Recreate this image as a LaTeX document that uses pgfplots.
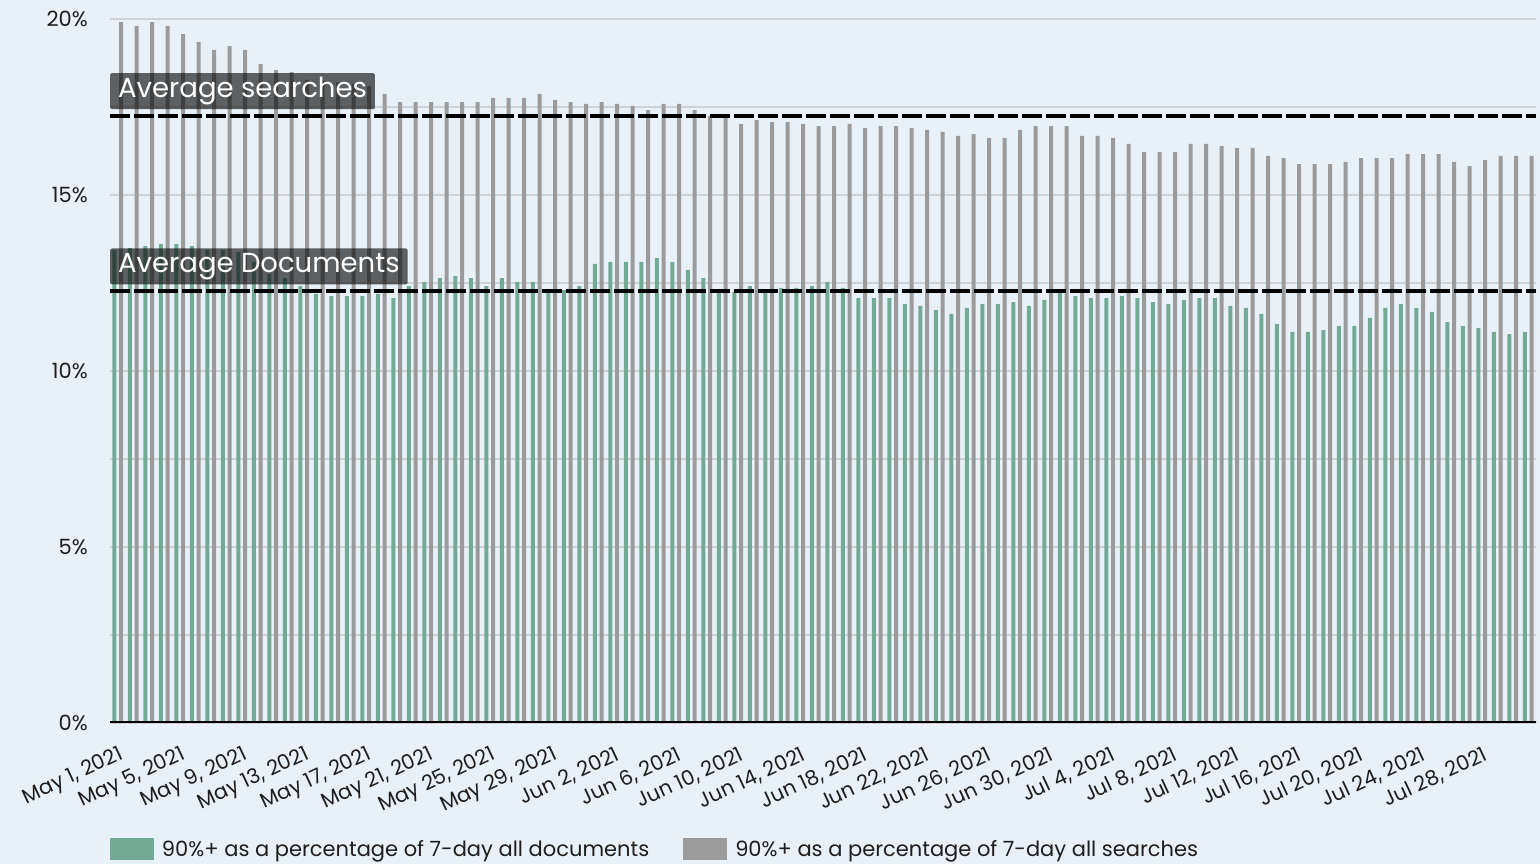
\documentclass[border=0pt]{standalone}
\usepackage{pgfplots}
\usepackage{pgfplotstable}
\pgfplotsset{compat=1.18}
\usepackage{fontspec}
\setmainfont{Poppins}
\definecolor{bgc}{HTML}{E8F1F7}
\definecolor{greenc}{HTML}{73AA96}
\definecolor{grayc}{HTML}{9B9B9B}
\definecolor{gridc}{HTML}{D2D2D2}
\definecolor{txtc}{HTML}{1E1E1E}

\pgfplotstableread{
k docs searches
0 13.44 19.91
1 13.49 19.80
2 13.55 19.91
3 13.61 19.80
4 13.61 19.57
5 13.55 19.35
6 13.44 19.12
7 13.44 19.23
8 13.38 19.12
9 13.10 18.72
10 12.76 18.55
11 12.64 18.49
12 12.41 18.27
13 12.19 18.25
14 12.13 18.20
15 12.13 18.15
16 12.13 18.10
17 12.19 17.87
18 12.07 17.64
19 12.41 17.64
20 12.53 17.64
21 12.64 17.64
22 12.70 17.64
23 12.64 17.64
24 12.41 17.76
25 12.64 17.76
26 12.53 17.76
27 12.53 17.87
28 12.24 17.70
29 12.30 17.64
30 12.41 17.59
31 13.04 17.64
32 13.10 17.59
33 13.10 17.53
34 13.10 17.41
35 13.21 17.59
36 13.10 17.59
37 12.87 17.41
38 12.64 17.24
39 12.24 17.20
40 12.24 17.02
41 12.41 17.13
42 12.24 17.07
43 12.36 17.07
44 12.36 17.02
45 12.41 16.96
46 12.53 16.96
47 12.36 17.02
48 12.07 16.90
49 12.07 16.96
50 12.07 16.96
51 11.90 16.90
52 11.85 16.85
53 11.73 16.79
54 11.62 16.68
55 11.79 16.73
56 11.90 16.62
57 11.90 16.62
58 11.96 16.85
59 11.85 16.96
60 12.02 16.96
61 12.24 16.96
62 12.13 16.68
63 12.07 16.68
64 12.07 16.62
65 12.13 16.45
66 12.07 16.22
67 11.96 16.22
68 11.90 16.22
69 12.02 16.45
70 12.07 16.45
71 12.07 16.39
72 11.85 16.34
73 11.79 16.34
74 11.62 16.11
75 11.34 16.05
76 11.11 15.88
77 11.11 15.88
78 11.16 15.88
79 11.28 15.94
80 11.28 16.05
81 11.51 16.05
82 11.79 16.05
83 11.90 16.16
84 11.79 16.16
85 11.68 16.16
86 11.39 15.94
87 11.28 15.82
88 11.22 15.99
89 11.11 16.11
90 11.05 16.11
91 11.11 16.11
}\datatable

\begin{document}
\begin{tikzpicture}
\fill[bgc] (-110pt,-141pt) rectangle (1430pt,723pt);
\useasboundingbox (-110pt,-141pt) rectangle (1430pt,723pt);
\begin{axis}[
  at={(0pt,0pt)}, anchor=south west,
  scale only axis, width=1426pt, height=704pt,
  xmin=-0.5, xmax=91.5, ymin=0, ymax=20,
  axis x line=bottom, axis y line=left,
  x axis line style={draw=none},
  y axis line style={draw=none},
  ytick={0,5,10,15,20},
  yticklabels={0\%,5\%,10\%,15\%,20\%},
  minor ytick={2.5,7.5,12.5,17.5},
  ymajorgrids, yminorgrids,
  major grid style={gridc, line width=2pt},
  minor grid style={gridc, line width=2pt},
  major tick length=0pt, minor tick length=0pt,
  xtick={0,4,...,88},
  xticklabels={{May 1, 2021},{May 5, 2021},{May 9, 2021},{May 13, 2021},{May 17, 2021},{May 21, 2021},{May 25, 2021},{May 29, 2021},{Jun 2, 2021},{Jun 6, 2021},{Jun 10, 2021},{Jun 14, 2021},{Jun 18, 2021},{Jun 22, 2021},{Jun 26, 2021},{Jun 30, 2021},{Jul 4, 2021},{Jul 8, 2021},{Jul 12, 2021},{Jul 16, 2021},{Jul 20, 2021},{Jul 24, 2021},{Jul 28, 2021}},
  yticklabel style={font=\fontsize{21}{21}\selectfont, text=txtc, anchor=east, inner sep=0pt, xshift=-22pt},
  xticklabel style={font=\fontsize{20.5}{20.5}\selectfont, text=txtc, rotate=25, anchor=east, inner sep=0pt, xshift=-9pt, yshift=-30pt},
  legend style={at={(0,0)}, anchor=north west, yshift=-115pt, draw=none, fill=none, inner sep=0pt, outer sep=0pt,
    font=\fontsize{21}{21}\selectfont, text=txtc, legend columns=2, cells={anchor=west},
    nodes={inner sep=0pt},
    /tikz/every odd column/.append style={column sep=8pt},
    /tikz/every even column/.append style={column sep=34pt}},
]
\addplot[ybar, bar width=4pt, bar shift=-3.4pt, fill=greenc, draw=none,
  legend image code/.code={\fill[greenc] (0pt,-11pt) rectangle (44pt,11pt);}]
  table[x=k, y=docs] {\datatable};
\addlegendentry{90\%+ as a percentage of 7-day all documents}
\addplot[ybar, bar width=4pt, bar shift=3.4pt, fill=grayc, draw=none,
  legend image code/.code={\fill[grayc] (0pt,-11pt) rectangle (44pt,11pt);}]
  table[x=k, y=searches] {\datatable};
\addlegendentry{90\%+ as a percentage of 7-day all searches}
\draw[black, line width=3pt] (rel axis cs:0,0) -- ([xshift=2pt]rel axis cs:1,0);
\addplot[black, line width=3.5pt, dash pattern=on 20pt off 4pt, forget plot] coordinates {(-0.5,17.25) (91.5,17.25)};
\addplot[black, line width=3.5pt, dash pattern=on 20pt off 4pt, forget plot] coordinates {(-0.5,12.27) (91.5,12.27)};
\node[fill=black, fill opacity=0.6, text=white, text opacity=1, anchor=south west, inner xsep=8pt, inner ysep=0pt,
  minimum height=36pt, rounded corners=2pt, font=\fontsize{27.5}{27.5}\selectfont, yshift=6.5pt]
  at (axis cs:-0.5,17.25) {Average searches};
\node[fill=black, fill opacity=0.6, text=white, text opacity=1, anchor=south west, inner xsep=8pt, inner ysep=0pt,
  minimum height=36pt, rounded corners=2pt, font=\fontsize{27.5}{27.5}\selectfont, yshift=6.5pt]
  at (axis cs:-0.5,12.27) {Average Documents};
\end{axis}
\end{tikzpicture}
\end{document}
